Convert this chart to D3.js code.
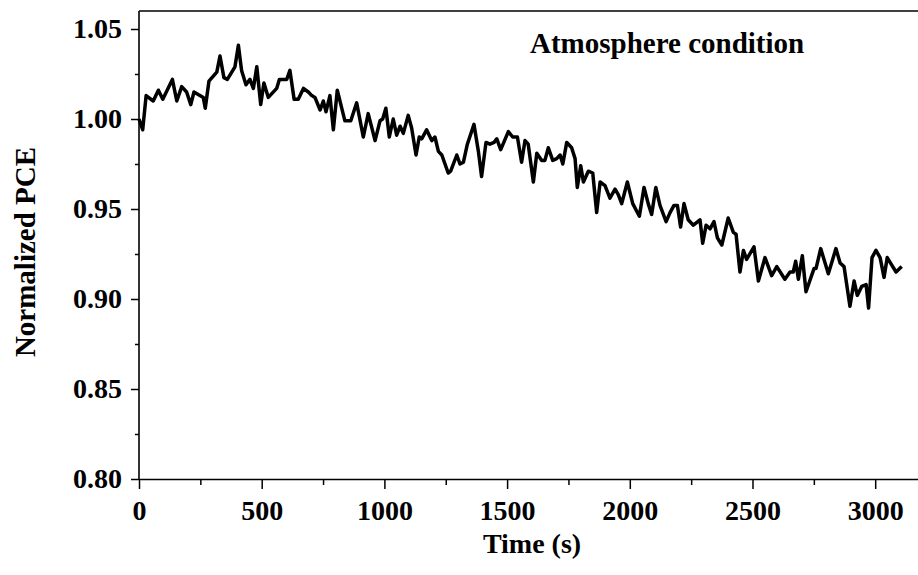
<!DOCTYPE html>
<html>
<head>
<meta charset="utf-8">
<script src="https://cdn.jsdelivr.net/npm/d3@7/dist/d3.min.js"></script>
<style>
  html, body { margin: 0; padding: 0; background: #fff; }
  svg { display: block; }
  text { font-family: "Liberation Serif", "Times New Roman", Times, serif; font-weight: bold; fill: #000; }
</style>
</head>
<body>
<svg id="chart" width="918" height="575"></svg>
<script>
// Time (s) of each recorded point
const times = [
  0, 15, 29, 58, 79, 97, 136, 154, 174, 194, 211, 224, 262, 270, 285, 317, 330, 346, 360, 391,
  405, 418, 436, 452, 466, 480, 496, 509, 527, 561, 572, 602, 615, 632, 649, 670, 690, 704, 717, 738,
  751, 762, 778, 792, 808, 839, 863, 887, 914, 934, 962, 982, 993, 1006, 1020, 1036, 1050, 1064, 1077, 1097,
  1111, 1129, 1142, 1152, 1172, 1193, 1206, 1220, 1234, 1260, 1270, 1295, 1308, 1322, 1338, 1365, 1383, 1396, 1414, 1430,
  1447, 1458, 1474, 1505, 1523, 1542, 1559, 1573, 1586, 1607, 1621, 1641, 1654, 1668, 1686, 1702, 1716, 1727, 1743, 1763,
  1777, 1786, 1800, 1811, 1831, 1849, 1865, 1879, 1899, 1919, 1940, 1953, 1967, 1990, 2012, 2039, 2058, 2075, 2089, 2106,
  2123, 2148, 2164, 2180, 2194, 2207, 2221, 2238, 2259, 2286, 2297, 2311, 2327, 2343, 2357, 2375, 2401, 2422, 2433, 2449,
  2463, 2476, 2506, 2524, 2551, 2578, 2599, 2632, 2653, 2666, 2676, 2687, 2703, 2718, 2751, 2759, 2778, 2809, 2840, 2857,
  2873, 2897, 2914, 2927, 2945, 2963, 2973, 2987, 3003, 3020, 3036, 3049, 3067, 3085, 3108
];

// Normalized power conversion efficiency at each time
const pce = [
  1.000, 0.994, 1.013, 1.010, 1.016, 1.011, 1.022, 1.010, 1.018, 1.015, 1.008, 1.015, 1.012, 1.006, 1.021, 1.026, 1.035, 1.023, 1.022, 1.029,
  1.041, 1.027, 1.019, 1.022, 1.017, 1.029, 1.008, 1.020, 1.012, 1.017, 1.022, 1.022, 1.027, 1.011, 1.011, 1.017, 1.015, 1.013, 1.012, 1.005,
  1.010, 1.004, 1.013, 0.994, 1.016, 0.999, 0.999, 1.009, 0.990, 1.003, 0.988, 0.999, 1.000, 1.006, 0.990, 1.000, 0.991, 0.996, 0.992, 1.002,
  0.995, 0.980, 0.990, 0.989, 0.994, 0.988, 0.990, 0.982, 0.980, 0.970, 0.971, 0.980, 0.975, 0.976, 0.986, 0.997, 0.982, 0.968, 0.987, 0.986,
  0.987, 0.989, 0.983, 0.993, 0.990, 0.990, 0.976, 0.988, 0.986, 0.965, 0.981, 0.977, 0.977, 0.984, 0.977, 0.978, 0.980, 0.975, 0.987, 0.984,
  0.978, 0.962, 0.974, 0.965, 0.971, 0.970, 0.948, 0.965, 0.963, 0.956, 0.961, 0.958, 0.953, 0.965, 0.953, 0.946, 0.962, 0.953, 0.947, 0.962,
  0.952, 0.943, 0.948, 0.952, 0.952, 0.940, 0.953, 0.944, 0.941, 0.944, 0.931, 0.941, 0.939, 0.943, 0.934, 0.930, 0.945, 0.937, 0.936, 0.915,
  0.927, 0.922, 0.929, 0.910, 0.923, 0.913, 0.918, 0.911, 0.915, 0.915, 0.921, 0.911, 0.924, 0.904, 0.917, 0.917, 0.928, 0.914, 0.928, 0.920,
  0.918, 0.896, 0.910, 0.902, 0.907, 0.908, 0.895, 0.923, 0.927, 0.923, 0.912, 0.923, 0.919, 0.915, 0.918
];

const xMajorTicks = [0, 500, 1000, 1500, 2000, 2500, 3000];
const xMinorTicks = [250, 750, 1250, 1750, 2250, 2750];
const yMajorTicks = [0.80, 0.85, 0.90, 0.95, 1.00, 1.05];
const yMinorTicks = [0.825, 0.875, 0.925, 0.975, 1.025];

const xLabel = "Time (s)";
const yLabel = "Normalized PCE";
const note = "Atmosphere condition";

const svg = d3.select("#chart");

const plotLeft = 139, plotBottom = 479, plotTop = 11;
const x = d3.scaleLinear().domain([0, 3200]).range([plotLeft, plotLeft + 3200 * 0.2454]);
const y = d3.scaleLinear().domain([0.80, 1.06]).range([plotBottom, plotTop]);

const data = times.map((t, i) => ({ t, v: pce[i] }));

// Frame: top border
svg.append("line")
  .attr("x1", plotLeft).attr("x2", x(3200))
  .attr("y1", y(1.06)).attr("y2", y(1.06))
  .attr("stroke", "#000").attr("stroke-width", 1.6);

// Minor ticks
svg.append("g")
  .attr("transform", `translate(0,${plotBottom})`)
  .call(d3.axisBottom(x).tickValues(xMinorTicks).tickSize(6).tickSizeOuter(0).tickFormat(""))
  .call(g => g.select(".domain").remove())
  .call(g => g.selectAll("line").attr("stroke-width", 1.5));

svg.append("g")
  .attr("transform", `translate(${plotLeft},0)`)
  .call(d3.axisLeft(y).tickValues(yMinorTicks).tickSize(4).tickSizeOuter(0).tickFormat(""))
  .call(g => g.select(".domain").remove())
  .call(g => g.selectAll("line").attr("stroke-width", 1.5));

// Major axes
const xAxis = svg.append("g")
  .attr("transform", `translate(0,${plotBottom})`)
  .call(d3.axisBottom(x).tickValues(xMajorTicks).tickSize(10).tickSizeOuter(0).tickPadding(11).tickFormat(d3.format("d")));
xAxis.select(".domain").attr("stroke-width", 1.6);
xAxis.selectAll("line").attr("stroke-width", 1.5);
xAxis.selectAll("text").style("font-size", "28px");

const yAxis = svg.append("g")
  .attr("transform", `translate(${plotLeft},0)`)
  .call(d3.axisLeft(y).tickValues(yMajorTicks).tickSize(8).tickSizeOuter(0).tickPadding(9).tickFormat(d3.format(".2f")));
yAxis.select(".domain").attr("stroke-width", 1.6)
  .attr("d", `M0,${plotBottom}V${y(1.06)}`);
yAxis.selectAll("line").attr("stroke-width", 1.5);
yAxis.selectAll("text").style("font-size", "28px");

// Data line
svg.append("path")
  .datum(data)
  .attr("fill", "none")
  .attr("stroke", "#000")
  .attr("stroke-width", 3.5)
  .attr("stroke-linejoin", "round")
  .attr("d", d3.line().x(d => x(d.t)).y(d => y(d.v)));

// Axis titles
svg.append("text")
  .attr("x", 532).attr("y", 553)
  .attr("text-anchor", "middle")
  .style("font-size", "28px")
  .text(xLabel);

svg.append("text")
  .attr("transform", "translate(35,252) rotate(-90)")
  .attr("text-anchor", "middle")
  .style("font-size", "29px")
  .text(yLabel);

// Condition note
svg.append("text")
  .attr("x", 530).attr("y", 53)
  .style("font-size", "29px")
  .text(note);
</script>
</body>
</html>
